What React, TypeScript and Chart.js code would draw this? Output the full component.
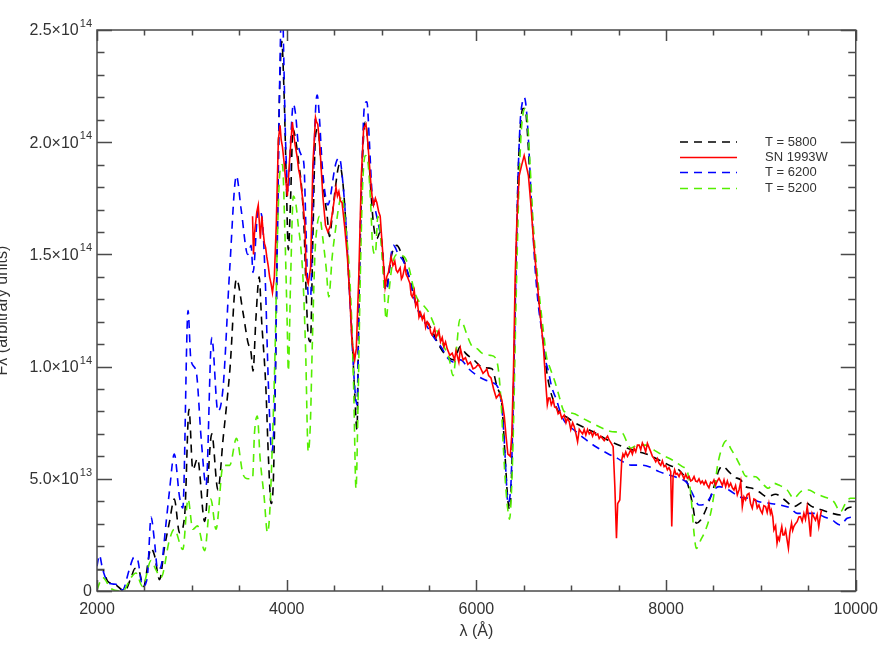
import React, { useEffect, useRef } from 'react';
import { Chart, registerables } from 'chart.js';

Chart.register(...registerables);

// Flux values are in units of 1e13 (arbitrary units)
const X_MIN = 2000;
const X_MAX = 10000;
const Y_MIN = 0;
const Y_MAX = 25;
const X_MINOR_STEP = 500;
const X_MAJOR_STEP = 2000;
const Y_MINOR_STEP = 1;
const Y_MAJOR_STEP = 5;

const xTickValues = [2000, 4000, 6000, 8000, 10000];
const xTickLabels = ['2000', '4000', '6000', '8000', '10000'];
const yTickValues = [0, 5, 10, 15, 20, 25];
const yTickMantissa = ['0', '5.0×10', '1.0×10', '1.5×10', '2.0×10', '2.5×10'];
const yTickExponent = ['', '13', '14', '14', '14', '14'];

const legendLabels = ['T = 5800', 'SN 1993W', 'T = 6200', 'T = 5200'];

// T = 5800 model (black dashed)
const wl5800 = [2000, 2060, 2110, 2190, 2290, 2360, 2400, 2445, 2490, 2570, 2605, 2660, 2710, 2765, 2815, 2870, 2925, 2970, 3010, 3060, 3135, 3210, 3275, 3330, 3400, 3470, 3540, 3590, 3625, 3645, 3675, 3710, 3735, 3780, 3808, 3836, 3860, 3885, 3910, 3930, 3948, 3972, 3997, 4017, 4042, 4066, 4095, 4129, 4157, 4182, 4206, 4227, 4250, 4276, 4304, 4330, 4357, 4392, 4427, 4451, 4480, 4514, 4556, 4590, 4625, 4654, 4689, 4717, 4741, 4760, 4787, 4811, 4829, 4857, 4885, 4916, 4951, 4986, 5020, 5045, 5073, 5108, 5160, 5213, 5260, 5310, 5378, 5450, 5517, 5587, 5660, 5762, 5832, 5885, 5972, 6077, 6164, 6217, 6269, 6304, 6329, 6350, 6370, 6392, 6420, 6444, 6468, 6490, 6514, 6540, 6566, 6600, 6636, 6671, 6706, 6741, 6776, 6830, 6881, 6944, 7049, 7154, 7260, 7383, 7505, 7593, 7716, 7821, 7926, 8031, 8137, 8225, 8277, 8319, 8365, 8417, 8470, 8505, 8558, 8594, 8646, 8716, 8787, 8839, 8909, 8979, 9067, 9155, 9242, 9347, 9453, 9540, 9645, 9751, 9839, 9909, 10000];
const fl5800 = [0.95, 0.95, 0.45, 0.3, 0.0, 0.6, 1.0, 0.87, 0.2, 1.9, 1.6, 0.5, 1.9, 3.1, 4.1, 2.6, 3.4, 8.1, 5.4, 5.9, 3.1, 7.0, 4.5, 6.8, 9.8, 13.9, 12.4, 11.1, 10.6, 9.8, 12.1, 14.0, 12.1, 9.1, 5.9, 3.9, 5.0, 10.8, 19.0, 23.0, 24.5, 22.2, 18.1, 15.2, 17.6, 20.6, 20.1, 19.0, 18.0, 16.3, 13.2, 11.4, 11.1, 15.7, 20.3, 20.6, 19.3, 17.8, 16.7, 15.8, 16.7, 18.0, 19.0, 18.3, 16.3, 14.0, 11.4, 8.8, 7.2, 12.4, 17.6, 20.3, 20.9, 19.9, 18.0, 16.3, 15.7, 16.0, 14.7, 13.4, 14.0, 15.0, 15.4, 15.0, 14.4, 13.7, 12.6, 12.1, 11.75, 11.1, 10.6, 10.3, 10.9, 10.6, 10.3, 9.95, 9.9, 9.1, 8.3, 5.9, 4.2, 3.6, 5.0, 9.1, 14.9, 19.0, 20.9, 21.5, 21.5, 20.3, 18.3, 16.0, 14.0, 12.4, 11.1, 9.8, 9.0, 8.3, 7.9, 7.77, 7.47, 7.25, 7.03, 6.73, 6.5, 6.36, 6.2, 6.06, 5.84, 5.61, 5.39, 4.8, 3.92, 3.02, 3.16, 3.6, 4.2, 4.65, 5.39, 5.57, 5.39, 5.09, 4.95, 4.65, 4.58, 4.42, 4.2, 4.31, 4.09, 3.76, 3.98, 3.76, 3.61, 3.46, 3.39, 3.69, 3.76];

// T = 6200 model (blue dashed)
const wl6200 = [2000, 2025, 2060, 2130, 2200, 2270, 2340, 2390, 2430, 2480, 2530, 2570, 2605, 2640, 2675, 2730, 2765, 2815, 2870, 2905, 2960, 2990, 3045, 3100, 3150, 3210, 3275, 3330, 3400, 3470, 3520, 3590, 3625, 3645, 3700, 3738, 3773, 3808, 3843, 3878, 3902, 3927, 3940, 3955, 3968, 3990, 4017, 4042, 4070, 4095, 4122, 4157, 4182, 4206, 4227, 4252, 4276, 4304, 4322, 4345, 4374, 4402, 4434, 4462, 4497, 4521, 4556, 4590, 4626, 4654, 4689, 4717, 4741, 4766, 4794, 4822, 4846, 4871, 4899, 4934, 4969, 5003, 5031, 5056, 5091, 5126, 5178, 5230, 5290, 5340, 5395, 5465, 5535, 5587, 5640, 5692, 5762, 5832, 5920, 6007, 6094, 6164, 6234, 6269, 6294, 6315, 6332, 6350, 6367, 6392, 6416, 6437, 6462, 6486, 6504, 6524, 6549, 6584, 6619, 6654, 6689, 6724, 6759, 6794, 6846, 6899, 6944, 7032, 7137, 7260, 7383, 7488, 7575, 7628, 7733, 7821, 7926, 8031, 8137, 8225, 8277, 8347, 8417, 8470, 8505, 8558, 8663, 8769, 8874, 8979, 9102, 9207, 9312, 9382, 9470, 9575, 9663, 9751, 9839, 9909, 10000];
const fl6200 = [1.1, 1.6, 0.95, 0.33, 0.3, 0.05, 0.95, 1.5, 1.36, 0.2, 0.6, 3.3, 2.26, 0.95, 1.1, 3.1, 4.5, 6.1, 4.2, 3.7, 12.5, 10.3, 9.8, 6.7, 4.7, 11.3, 8.0, 9.1, 14.4, 18.5, 17.0, 15.0, 15.4, 14.2, 17.0, 16.7, 14.0, 9.1, 6.2, 9.1, 15.7, 23.0, 25.5, 26.5, 24.0, 19.8, 17.8, 20.1, 21.7, 21.2, 19.9, 19.4, 19.0, 15.7, 13.2, 13.1, 17.3, 21.4, 22.1, 21.1, 19.0, 17.8, 17.2, 17.6, 18.6, 19.1, 19.3, 18.3, 16.3, 14.0, 11.1, 9.1, 8.3, 14.0, 19.0, 21.7, 21.8, 20.1, 17.8, 17.0, 16.3, 15.4, 13.7, 13.4, 14.7, 15.4, 15.0, 14.7, 14.0, 13.1, 12.4, 11.9, 11.4, 11.1, 10.8, 10.4, 10.2, 10.3, 9.9, 9.6, 9.4, 9.3, 9.0, 8.15, 6.7, 5.0, 3.9, 4.1, 5.0, 9.1, 14.0, 18.1, 20.9, 21.8, 22.0, 21.6, 20.1, 17.0, 14.4, 12.7, 11.6, 10.4, 9.8, 9.1, 8.5, 7.8, 7.47, 7.17, 6.8, 6.43, 6.13, 5.91, 5.69, 5.61, 5.61, 5.54, 5.32, 5.17, 5.02, 4.8, 4.35, 3.83, 3.9, 4.2, 4.5, 4.65, 4.5, 4.2, 4.13, 3.98, 3.9, 3.83, 3.69, 3.46, 3.46, 3.46, 3.31, 3.16, 2.94, 3.24, 3.31];

// T = 5200 model (green dashed)
const wl5200 = [2000, 2060, 2150, 2270, 2360, 2410, 2480, 2570, 2620, 2675, 2765, 2815, 2905, 2960, 3010, 3060, 3135, 3200, 3255, 3330, 3400, 3470, 3540, 3590, 3640, 3660, 3690, 3720, 3762, 3797, 3820, 3850, 3878, 3902, 3927, 3955, 3983, 4007, 4017, 4042, 4070, 4095, 4122, 4147, 4171, 4199, 4227, 4250, 4269, 4297, 4322, 4347, 4381, 4416, 4444, 4480, 4521, 4556, 4584, 4620, 4654, 4682, 4706, 4731, 4752, 4776, 4801, 4829, 4857, 4885, 4906, 4934, 4962, 4986, 5020, 5049, 5073, 5108, 5161, 5238, 5290, 5343, 5395, 5447, 5500, 5552, 5605, 5657, 5710, 5755, 5790, 5825, 5860, 5902, 5955, 6007, 6059, 6147, 6199, 6234, 6262, 6287, 6311, 6332, 6350, 6371, 6392, 6416, 6444, 6468, 6490, 6514, 6540, 6566, 6600, 6636, 6671, 6706, 6741, 6776, 6830, 6874, 6926, 7014, 7119, 7225, 7330, 7435, 7540, 7593, 7628, 7698, 7786, 7874, 7961, 8066, 8172, 8225, 8260, 8295, 8319, 8365, 8417, 8470, 8505, 8541, 8594, 8636, 8681, 8734, 8787, 8839, 8944, 9014, 9077, 9137, 9190, 9277, 9347, 9418, 9505, 9575, 9663, 9768, 9839, 9891, 9944, 10000];
const fl5200 = [0.05, 0.6, 0.1, 0.0, 0.6, 0.8, 0.2, 1.36, 0.95, 0.6, 2.3, 2.75, 1.85, 4.1, 2.75, 2.9, 1.8, 4.1, 2.75, 5.6, 5.6, 6.8, 5.2, 5.0, 5.0, 7.0, 7.8, 5.9, 4.2, 2.6, 3.4, 6.7, 10.8, 15.7, 18.6, 19.0, 15.7, 11.6, 9.8, 14.0, 17.6, 17.3, 16.3, 15.4, 14.0, 10.8, 6.2, 7.5, 10.8, 14.9, 16.3, 16.7, 15.7, 14.4, 13.1, 14.9, 16.3, 17.3, 17.6, 16.3, 14.7, 12.4, 9.1, 4.55, 8.3, 14.0, 18.1, 19.4, 19.1, 17.3, 15.4, 15.0, 16.7, 16.0, 14.0, 12.1, 13.1, 14.4, 15.0, 14.9, 14.4, 13.4, 12.9, 12.7, 12.4, 11.9, 11.4, 10.9, 10.4, 9.6, 10.8, 12.1, 11.9, 11.4, 10.9, 10.8, 10.6, 10.5, 10.4, 9.8, 8.3, 6.2, 4.55, 3.6, 3.2, 4.55, 7.5, 12.4, 17.3, 20.1, 21.2, 21.5, 20.9, 19.0, 16.3, 14.4, 12.9, 11.6, 10.4, 9.95, 9.3, 8.66, 8.0, 7.92, 7.7, 7.47, 7.25, 7.1, 7.03, 6.58, 6.36, 6.5, 6.5, 6.28, 6.06, 5.84, 5.54, 5.32, 4.35, 2.57, 1.9, 2.27, 2.72, 3.46, 4.3, 5.54, 6.43, 6.7, 6.36, 5.98, 5.54, 5.12, 5.09, 4.8, 4.58, 4.8, 4.72, 4.5, 4.13, 4.42, 4.5, 4.35, 4.2, 3.98, 3.53, 3.9, 4.13, 4.13];

// SN 1993W observed spectrum (red solid)
const wlSN = [3640, 3650, 3660, 3670, 3685, 3700, 3712, 3722, 3738, 3752, 3765, 3778, 3790, 3805, 3820, 3835, 3850, 3870, 3890, 3912, 3930, 3942, 3955, 3970, 3983, 4007, 4020, 4032, 4060, 4075, 4088, 4112, 4125, 4140, 4165, 4192, 4206, 4227, 4252, 4276, 4304, 4315, 4328, 4353, 4381, 4409, 4434, 4462, 4480, 4497, 4520, 4535, 4550, 4565, 4584, 4612, 4640, 4664, 4689, 4717, 4734, 4760, 4787, 4811, 4836, 4857, 4885, 4900, 4916, 4935, 4951, 4970, 4986, 5014, 5038, 5055, 5073, 5101, 5120, 5140, 5155, 5170, 5196, 5210, 5222, 5248, 5260, 5273, 5300, 5312, 5325, 5345, 5360, 5378, 5395, 5412, 5430, 5448, 5465, 5482, 5500, 5520, 5535, 5560, 5575, 5587, 5605, 5622, 5640, 5657, 5675, 5692, 5720, 5745, 5770, 5785, 5797, 5815, 5832, 5860, 5885, 5910, 5937, 5965, 5990, 6020, 6042, 6070, 6094, 6110, 6129, 6154, 6182, 6210, 6245, 6269, 6294, 6315, 6332, 6357, 6374, 6392, 6409, 6427, 6451, 6479, 6504, 6515, 6524, 6549, 6573, 6601, 6636, 6671, 6706, 6734, 6748, 6762, 6776, 6790, 6811, 6825, 6846, 6862, 6881, 6900, 6926, 6945, 6960, 6979, 6995, 7015, 7032, 7050, 7067, 7085, 7102, 7120, 7137, 7154, 7172, 7190, 7207, 7225, 7242, 7260, 7280, 7295, 7312, 7330, 7348, 7365, 7383, 7400, 7420, 7442, 7460, 7477, 7490, 7512, 7533, 7545, 7558, 7575, 7593, 7610, 7628, 7645, 7663, 7680, 7698, 7716, 7733, 7750, 7768, 7785, 7803, 7820, 7839, 7856, 7874, 7891, 7908, 7926, 7944, 7961, 7979, 7996, 8014, 8031, 8049, 8060, 8074, 8090, 8105, 8119, 8137, 8155, 8172, 8190, 8207, 8225, 8243, 8260, 8277, 8295, 8312, 8330, 8347, 8365, 8382, 8400, 8417, 8435, 8452, 8470, 8488, 8505, 8523, 8540, 8558, 8576, 8594, 8611, 8628, 8646, 8663, 8681, 8699, 8716, 8733, 8751, 8769, 8787, 8804, 8821, 8839, 8856, 8874, 8891, 8909, 8926, 8944, 8961, 8979, 8996, 9014, 9031, 9049, 9066, 9084, 9100, 9110, 9125, 9137, 9155, 9170, 9182, 9195, 9207, 9220, 9232, 9245, 9260, 9275, 9290, 9305, 9323, 9335, 9347, 9365, 9382, 9400, 9418, 9435, 9453, 9470, 9488, 9505, 9523, 9540, 9558, 9575, 9593, 9610, 9625, 9639, 9650, 9663];
const flSN = [16.7, 15.0, 15.9, 16.3, 16.9, 17.2, 16.4, 15.7, 16.7, 16.0, 15.5, 15.3, 14.9, 14.5, 14.0, 13.7, 13.3, 14.0, 16.3, 20.1, 20.75, 20.1, 19.8, 19.2, 18.6, 17.6, 18.5, 19.3, 20.9, 20.3, 19.9, 19.3, 18.8, 18.5, 17.6, 16.3, 14.0, 13.7, 14.4, 19.0, 21.1, 20.9, 20.8, 19.6, 17.6, 16.3, 16.0, 16.3, 16.8, 17.3, 18.0, 17.6, 17.8, 17.4, 17.3, 16.2, 14.9, 13.2, 11.1, 10.3, 10.8, 14.0, 18.5, 20.6, 20.8, 19.9, 18.3, 17.6, 17.2, 17.5, 17.3, 16.9, 16.7, 15.0, 13.55, 14.0, 14.2, 14.9, 14.5, 14.7, 14.3, 14.2, 14.4, 13.9, 14.0, 14.5, 14.1, 14.0, 13.7, 13.2, 13.1, 13.4, 12.7, 12.9, 12.2, 12.4, 12.1, 12.3, 11.75, 12.0, 11.9, 11.5, 11.4, 11.7, 11.3, 11.4, 11.6, 11.1, 11.3, 10.9, 11.1, 10.8, 10.5, 10.6, 10.3, 10.7, 10.5, 10.2, 10.8, 10.3, 10.4, 10.1, 10.2, 9.9, 9.95, 10.1, 9.95, 9.7, 9.8, 9.9, 9.6, 9.5, 9.0, 8.6, 8.8, 8.5, 7.8, 6.8, 6.1, 6.0, 7.0, 9.95, 14.0, 16.5, 18.5, 19.0, 19.4, 19.2, 19.0, 18.5, 17.3, 15.7, 14.0, 12.4, 10.9, 9.1, 8.3, 8.6, 8.6, 8.3, 8.5, 8.2, 8.15, 7.9, 8.0, 7.7, 7.84, 7.5, 7.7, 7.55, 7.2, 7.5, 7.32, 7.0, 6.65, 7.2, 7.1, 7.0, 7.2, 6.95, 7.2, 7.0, 7.1, 6.9, 7.1, 6.95, 7.0, 6.8, 6.9, 6.8, 6.7, 6.8, 6.9, 6.73, 6.6, 6.43, 4.65, 2.35, 3.9, 4.06, 5.84, 6.1, 5.98, 6.2, 6.0, 6.13, 6.3, 6.1, 6.36, 6.2, 6.5, 6.5, 6.3, 6.6, 6.43, 6.2, 6.58, 6.4, 6.2, 6.0, 5.9, 5.76, 5.9, 5.69, 5.6, 5.8, 5.54, 5.6, 5.4, 5.5, 5.32, 2.87, 5.1, 5.4, 5.2, 5.24, 5.1, 5.3, 5.17, 5.0, 5.2, 5.02, 5.1, 4.9, 4.95, 5.1, 4.9, 4.87, 5.0, 4.8, 4.9, 4.75, 4.9, 4.72, 4.6, 4.85, 4.8, 4.95, 4.72, 4.9, 5.02, 4.87, 4.7, 4.95, 4.65, 4.9, 4.65, 4.8, 4.6, 4.5, 4.7, 4.28, 4.5, 4.87, 3.76, 4.2, 4.06, 4.3, 4.35, 3.9, 3.69, 4.1, 4.06, 3.7, 3.83, 3.6, 3.46, 3.8, 3.76, 3.5, 3.9, 3.46, 3.6, 3.31, 2.72, 2.9, 2.13, 2.4, 2.27, 2.6, 2.87, 2.5, 2.5, 2.72, 2.3, 1.9, 2.6, 3.02, 2.7, 2.87, 3.0, 3.09, 3.3, 3.31, 3.1, 3.46, 3.2, 3.76, 3.24, 2.42, 3.46, 3.3, 3.16, 3.4, 2.87, 3.3, 3.61];

const COLOR_5800 = '#000000';
const COLOR_SN = '#ff0000';
const COLOR_6200 = '#0000ff';
const COLOR_5200 = '#55ee00';
const legendColors = [COLOR_5800, COLOR_SN, COLOR_6200, COLOR_5200];
const legendDashed = [true, false, true, true];

const FONT_FAMILY = '"Liberation Sans", Arial, sans-serif';
const TEXT_COLOR = '#333333';
const AXIS_COLOR = '#4a4a4a';
const DASH = [8, 6];
const LINE_WIDTH = 1.6;

const toPoints = (wl: number[], fl: number[]) => wl.map((w, i) => ({ x: w, y: fl[i] }));

const axisBoxPlugin = {
  id: 'axisBox',
  afterDatasetsDraw(chart: any) {
    const { ctx, chartArea, scales } = chart;
    const { left, right, top, bottom } = chartArea;
    const xs = scales.x;
    const ys = scales.y;
    ctx.save();
    ctx.strokeStyle = AXIS_COLOR;
    ctx.lineWidth = 1.5;
    ctx.setLineDash([]);
    ctx.strokeRect(left, top, right - left, bottom - top);
    ctx.beginPath();
    for (let v = X_MIN; v <= X_MAX; v += X_MINOR_STEP) {
      const px = Math.round(xs.getPixelForValue(v)) + 0.5;
      const len = v % X_MAJOR_STEP === 0 ? 11 : 5.5;
      ctx.moveTo(px, bottom);
      ctx.lineTo(px, bottom - len);
      ctx.moveTo(px, top);
      ctx.lineTo(px, top + len);
    }
    for (let v = Y_MIN; v <= Y_MAX; v += Y_MINOR_STEP) {
      const py = Math.round(ys.getPixelForValue(v)) + 0.5;
      const len = v % Y_MAJOR_STEP === 0 ? 15 : 7.5;
      ctx.moveTo(left, py);
      ctx.lineTo(left + len, py);
      ctx.moveTo(right, py);
      ctx.lineTo(right - len, py);
    }
    ctx.stroke();

    // y tick labels with superscript exponents, placed through the y scale
    const baseFont = `16px ${FONT_FAMILY}`;
    const expFont = `11px ${FONT_FAMILY}`;
    ctx.fillStyle = TEXT_COLOR;
    ctx.textBaseline = 'middle';
    ctx.textAlign = 'left';
    yTickValues.forEach((v, i) => {
      const py = ys.getPixelForValue(v);
      const mant = yTickMantissa[i];
      const exp = yTickExponent[i];
      ctx.font = expFont;
      const expW = exp ? ctx.measureText(exp).width : 0;
      ctx.font = baseFont;
      const mantW = ctx.measureText(mant).width;
      const xEnd = left - 5;
      const x0 = xEnd - expW - mantW - (exp ? 1 : 0);
      ctx.fillText(mant, x0, py + 1);
      if (exp) {
        ctx.font = expFont;
        ctx.fillText(exp, x0 + mantW + 1, py - 6);
      }
    });
    ctx.restore();
  },
};

const legendPlugin = {
  id: 'customLegend',
  afterDraw(chart: any) {
    const { ctx } = chart;
    const lineX0 = 680;
    const lineX1 = 737;
    const textX = 765;
    const rowY = [142, 157.5, 172.5, 188.5];
    ctx.save();
    ctx.font = `13px ${FONT_FAMILY}`;
    ctx.textBaseline = 'middle';
    ctx.textAlign = 'left';
    legendLabels.forEach((label, i) => {
      ctx.strokeStyle = legendColors[i];
      ctx.lineWidth = LINE_WIDTH;
      ctx.setLineDash(legendDashed[i] ? DASH : []);
      ctx.beginPath();
      ctx.moveTo(lineX0, rowY[i]);
      ctx.lineTo(lineX1, rowY[i]);
      ctx.stroke();
      ctx.fillStyle = TEXT_COLOR;
      ctx.fillText(label, textX, rowY[i]);
    });
    ctx.restore();
  },
};

export default function App() {
  const canvasRef = useRef<HTMLCanvasElement | null>(null);

  useEffect(() => {
    const canvas = canvasRef.current;
    if (!canvas) return;
    const tickFont = { family: FONT_FAMILY, size: 16 };
    const modelStyle = {
      borderWidth: LINE_WIDTH,
      borderDash: DASH,
      pointRadius: 0,
      fill: false,
      clip: 0,
      cubicInterpolationMode: 'monotone',
    };
    const chart = new Chart(canvas, {
      type: 'line',
      data: {
        datasets: [
          {
            label: legendLabels[1],
            data: toPoints(wlSN, flSN),
            borderColor: COLOR_SN,
            borderWidth: LINE_WIDTH,
            pointRadius: 0,
            fill: false,
            clip: 0,
          },
          { label: legendLabels[3], data: toPoints(wl5200, fl5200), borderColor: COLOR_5200, ...modelStyle },
          { label: legendLabels[2], data: toPoints(wl6200, fl6200), borderColor: COLOR_6200, ...modelStyle },
          { label: legendLabels[0], data: toPoints(wl5800, fl5800), borderColor: COLOR_5800, ...modelStyle },
        ],
      },
      options: {
        responsive: false,
        animation: false,
        devicePixelRatio: 1,
        layout: { padding: { left: 0, right: 30, top: 30, bottom: 0 } },
        elements: { line: { tension: 0 }, point: { radius: 0 } },
        plugins: {
          legend: { display: false },
          tooltip: { enabled: false },
        },
        scales: {
          x: {
            type: 'linear',
            min: X_MIN,
            max: X_MAX,
            afterFit: (s: any) => {
              s.height = 63;
            },
            afterBuildTicks: (s: any) => {
              s.ticks = xTickValues.map((v) => ({ value: v }));
            },
            grid: { display: false, drawTicks: false },
            border: { display: false },
            ticks: {
              padding: 9,
              color: TEXT_COLOR,
              font: tickFont,
              maxRotation: 0,
              autoSkip: false,
              callback: (v: any) => {
                const i = xTickValues.indexOf(Number(v));
                return i >= 0 ? xTickLabels[i] : '';
              },
            },
            title: {
              display: true,
              text: 'λ (Å)',
              color: TEXT_COLOR,
              font: tickFont,
              padding: { top: 0, bottom: 13 },
            },
          },
          y: {
            type: 'linear',
            min: Y_MIN,
            max: Y_MAX,
            afterFit: (s: any) => {
              s.width = 97;
            },
            afterBuildTicks: (s: any) => {
              s.ticks = yTickValues.map((v) => ({ value: v }));
            },
            grid: { display: false, drawTicks: false },
            border: { display: false },
            ticks: { display: false },
            title: {
              display: true,
              text: 'Fλ (arbitrary units)',
              color: TEXT_COLOR,
              font: tickFont,
              padding: { top: -7, bottom: 0 },
            },
          },
        },
      },
      plugins: [axisBoxPlugin, legendPlugin],
    } as any);
    return () => chart.destroy();
  }, []);

  return (
    <div style={{ position: 'absolute', left: 0, top: 0, width: 887, height: 654, background: '#fff' }}>
      <canvas ref={canvasRef} width={887} height={654} style={{ display: 'block' }} />
    </div>
  );
}
